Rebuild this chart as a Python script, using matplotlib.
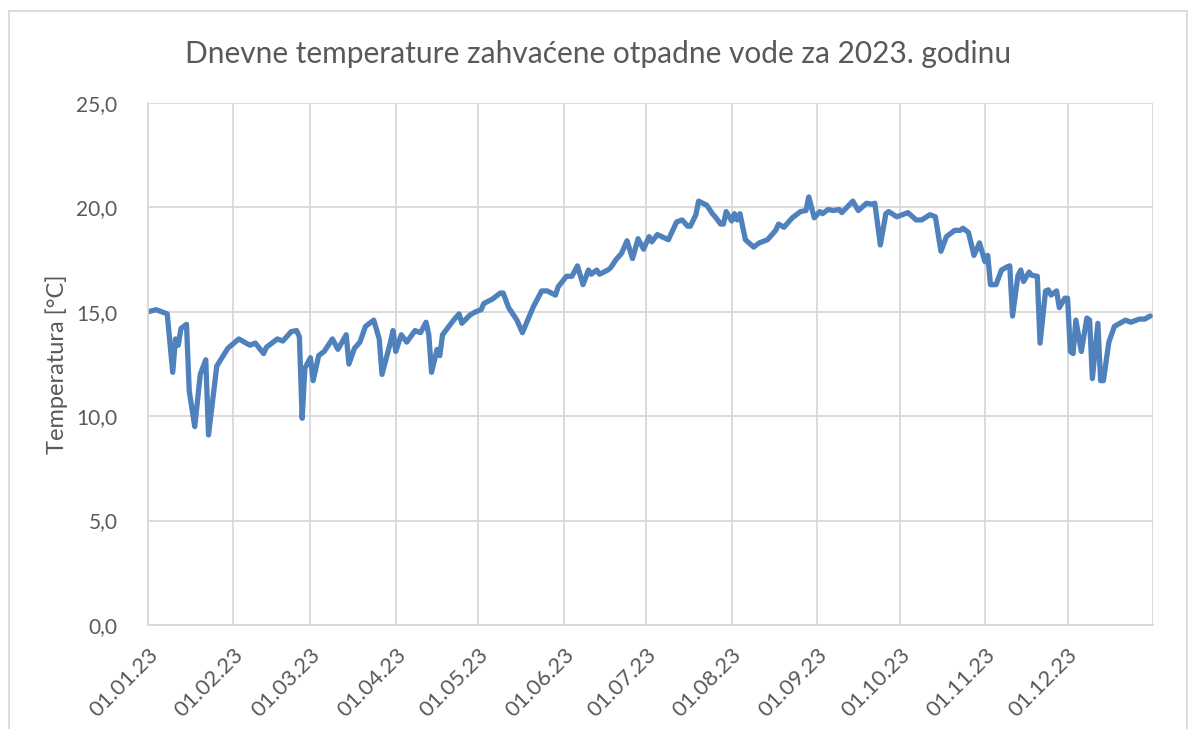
# Lib
import pandas as pd
import matplotlib.pyplot as plt
from matplotlib.patches import Rectangle

# Data (day of year offset from 01.01.2023, temperature in °C)
days = [0, 3, 7, 9, 10, 11, 12, 14, 15, 17, 19, 21, 22, 25, 29, 33, 37, 39, 42, 43,
        47, 49, 52, 54, 55, 56, 57, 59, 60, 62, 64, 67, 69, 72, 73, 75, 77, 79, 82, 84,
        85, 88, 89, 90, 92, 94, 97, 99, 101, 102, 103, 105, 106, 107, 111, 113, 114, 117, 119, 121,
        122, 125, 128, 129, 131, 134, 136, 140, 143, 145, 148, 149, 152, 154, 156, 158, 160, 161, 163, 164,
        167, 168, 170, 172, 174, 176, 178, 180, 182, 183, 185, 189, 192, 194, 196, 197, 199, 200, 203, 205,
        206, 208, 209, 210, 212, 213, 214, 215, 217, 220, 222, 225, 226, 228, 229, 231, 234, 237, 239, 240,
        242, 244, 245, 247, 249, 251, 252, 256, 258, 261, 263, 264, 266, 268, 269, 272, 274, 276, 279, 281,
        284, 286, 288, 290, 293, 295, 296, 298, 300, 302, 304, 305, 306, 308, 310, 312, 313, 314, 316, 317,
        318, 320, 321, 323, 324, 326, 327, 328, 330, 331, 333, 334, 335, 336, 337, 339, 341, 342, 343, 345,
        346, 347, 349, 351, 353, 355, 357, 360, 362, 364]
temps = [15.0, 15.1, 14.9, 12.1, 13.7, 13.4, 14.2, 14.4, 11.2, 9.5, 12.0, 12.7, 9.1, 12.4, 13.25, 13.7, 13.4, 13.5, 13.0, 13.3,
         13.7, 13.6, 14.05, 14.1, 13.8, 9.9, 12.3, 12.8, 11.7, 12.9, 13.1, 13.7, 13.2, 13.9, 12.5, 13.25, 13.55, 14.3, 14.6, 13.7,
         12.0, 13.5, 14.1, 13.1, 13.9, 13.55, 14.1, 14.0, 14.5, 13.9, 12.1, 13.2, 12.9, 13.9, 14.6, 14.9, 14.45, 14.85, 15.0, 15.1,
         15.4, 15.6, 15.9, 15.9, 15.2, 14.6, 14.0, 15.25, 16.0, 16.0, 15.8, 16.2, 16.7, 16.7, 17.2, 16.3, 17.0, 16.8, 17.0, 16.8,
         17.0, 17.1, 17.5, 17.8, 18.4, 17.55, 18.5, 18.0, 18.6, 18.35, 18.7, 18.45, 19.3, 19.4, 19.1, 19.1, 19.65, 20.3, 20.1, 19.7,
         19.55, 19.2, 19.2, 19.8, 19.35, 19.7, 19.4, 19.7, 18.45, 18.1, 18.3, 18.45, 18.6, 18.9, 19.2, 19.05, 19.5, 19.8, 19.85, 20.5,
         19.5, 19.8, 19.7, 19.9, 19.85, 19.9, 19.75, 20.3, 19.85, 20.2, 20.15, 20.2, 18.2, 19.7, 19.8, 19.55, 19.65, 19.75, 19.4, 19.4,
         19.65, 19.55, 17.9, 18.6, 18.9, 18.9, 19.0, 18.8, 17.7, 18.3, 17.4, 17.7, 16.3, 16.3, 17.0, 17.15, 17.2, 14.8, 16.75, 17.0,
         16.45, 16.9, 16.75, 16.7, 13.5, 16.0, 16.05, 15.8, 16.0, 15.2, 15.65, 15.65, 13.1, 13.0, 14.6, 13.1, 14.7, 14.6, 11.8, 14.45,
         11.7, 11.7, 13.55, 14.3, 14.45, 14.6, 14.5, 14.65, 14.65, 14.8]

dates = pd.Timestamp('2023-01-01') + pd.to_timedelta(days, unit='D')

plt.rcParams['font.family'] = ['Lato', 'DejaVu Sans']
text_color = '#595959'
grid_color = '#D9D9D9'

fig = plt.figure(figsize=(11.96, 7.29), dpi=100)
ax = fig.add_axes([0.1237, 0.1427, 0.8403, 0.716])

ax.plot(dates, temps, color='#4F81BD', linewidth=3.8, solid_joinstyle='round', solid_capstyle='round')

# axes limits and ticks
ax.set_ylim(0, 25)
ax.set_yticks(range(0, 26, 5))
ax.set_yticklabels([f'{v:.1f}'.replace('.', ',') for v in range(0, 26, 5)])
ax.set_xlim(pd.Timestamp('2023-01-01'), pd.Timestamp('2024-01-01'))

month_starts = pd.date_range('2023-01-01', '2024-01-01', freq='MS')
ax.set_xticks(month_starts)
ax.set_xticklabels([d.strftime('%d.%m.%y') if d.year == 2023 else '' for d in month_starts],
                   rotation=45, ha='right', va='top', rotation_mode='anchor')

ax.grid(True, color=grid_color, linewidth=1.3)
ax.set_axisbelow(True)
for side in ['top', 'right']:
    ax.spines[side].set_visible(False)
for side in ['left', 'bottom']:
    ax.spines[side].set_color(grid_color)
    ax.spines[side].set_linewidth(1.3)

ax.tick_params(axis='both', length=0, colors=text_color)
ax.tick_params(axis='y', pad=22, labelsize=15)
ax.tick_params(axis='x', pad=14, labelsize=16)

ax.set_ylabel('Temperatura [°C]', color=text_color, fontsize=17, labelpad=6)
fig.suptitle('Dnevne temperature zahvaćene otpadne vode za 2023. godinu',
             color=text_color, fontsize=21.5, y=0.945)

# chart border
fig.patches.append(Rectangle((9 / 1196, -0.05), 1178 / 1196, 1 - 11 / 729 + 0.05,
                             transform=fig.transFigure, fill=False,
                             edgecolor=grid_color, linewidth=1.3))

fig.savefig('out.png', dpi=100)
